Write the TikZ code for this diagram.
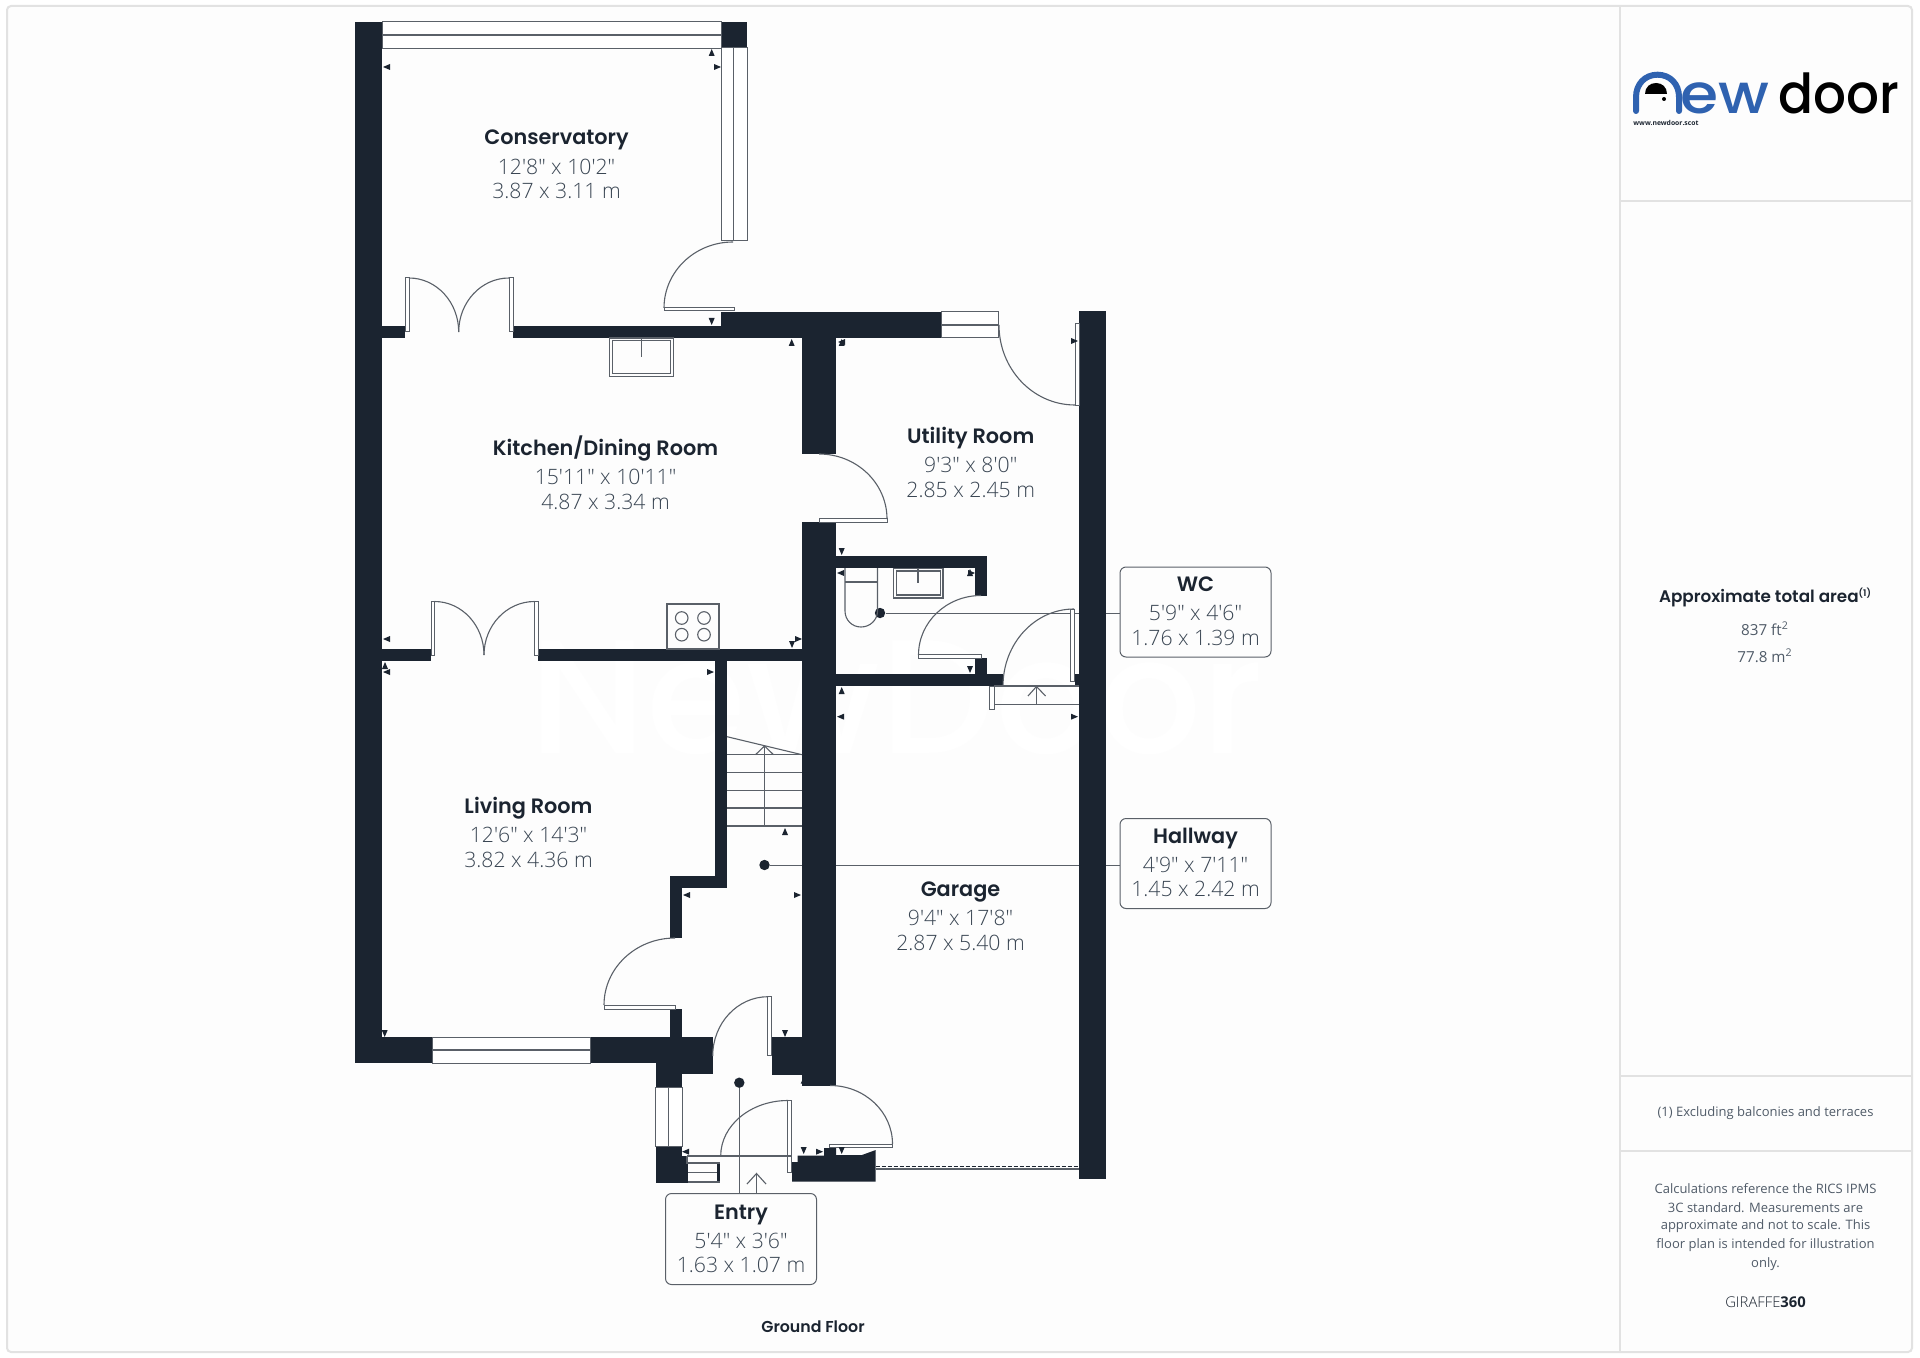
\documentclass[tikz,border=0pt]{standalone}
\usepackage{fontspec}
\usetikzlibrary{calc}
\setmainfont{Open Sans}
\newfontfamily\dimfont[UprightFont=* Light,BoldFont=* Bold]{Open Sans}
\newfontfamily\bodyfont{Open Sans}
\newfontfamily\titlefont[UprightFont=* SemiBold]{Poppins}
\newfontfamily\logofont[UprightFont=* Medium]{Poppins}
\definecolor{wallc}{HTML}{1B2430}
\definecolor{linec}{HTML}{5A6068}
\definecolor{dimc}{HTML}{3A4653}
\definecolor{sidec}{HTML}{505B68}
\definecolor{framec}{HTML}{E2E2E2}
\definecolor{bgc}{HTML}{FDFDFD}
\definecolor{logoblue}{HTML}{2F62B0}
\newcommand{\wallr}[4]{\fill[wallc] (#1,#2) rectangle (#3,#4);}
\newcommand{\qarc}[3]{\draw[plan] (#1) .. controls ($(#1)!.5523!(#2)$) and ($(#3)!.5523!(#2)$) .. (#3);}
\newcommand{\mkL}[2]{\fill[wallc] (#1,#2) -- ++(7,-3) -- ++(0,6) -- cycle;}
\newcommand{\mkR}[2]{\fill[wallc] (#1,#2) -- ++(-7,-3) -- ++(0,6) -- cycle;}
\newcommand{\mkU}[2]{\fill[wallc] (#1,#2) -- ++(-3,7) -- ++(6,0) -- cycle;}
\newcommand{\mkD}[2]{\fill[wallc] (#1,#2) -- ++(-3,-7) -- ++(6,0) -- cycle;}
\newcommand{\supsm}[1]{\raisebox{3.2pt}{\fontsize{4.6}{5}\selectfont #1}}
\tikzset{
  plan/.style={draw=linec,line width=0.55pt},
  glass/.style={draw=linec,line width=0.5pt,fill=white},
  dotn/.style={circle,fill=wallc,inner sep=0pt,minimum size=5.2pt},
  lead/.style={draw=linec,line width=0.5pt},
  labelbox/.style={draw=linec,line width=0.5pt,rounded corners=3pt,fill=bgc,inner sep=0pt},
  rname/.style={font=\titlefont\fontsize{10.4}{13}\selectfont,text=wallc,inner sep=0pt,anchor=base},
  rdim/.style={font=\dimfont\fontsize{10.6}{13}\selectfont,text=dimc,inner sep=0pt,anchor=center},
  side/.style={font=\bodyfont\fontsize{6.5}{9}\selectfont,text=sidec,inner sep=0pt,anchor=center},
  sidem/.style={font=\bodyfont\fontsize{7.6}{9}\selectfont,text=sidec,inner sep=0pt,anchor=center},
}
\begin{document}
\begin{tikzpicture}[x=0.5pt,y=-0.5pt]
\useasboundingbox (0,0) rectangle (1920,1358);
\fill[white] (0,0) rectangle (1920,1358);
\draw[framec,line width=1pt,fill=bgc,rounded corners=2pt] (7,6) rectangle (1912,1352);
\draw[framec,line width=1pt] (1620,6) -- (1620,1352);
\draw[framec,line width=1pt] (1620,201) -- (1912,201);
\draw[framec,line width=1pt] (1620,1075.5) -- (1912,1075.5);
\draw[framec,line width=1pt] (1620,1151) -- (1912,1151);

% watermark: white on the near-white sheet, hidden by the walls
\node[font=\logofont\fontsize{81}{81}\selectfont,text=white,inner sep=0pt] (water) at (897,698) {NewDoor};

% leader targets and labels
\node[labelbox,minimum width=75.5pt,minimum height=45pt] (wcbox) at (1195.5,612) {};
\node[labelbox,minimum width=75.5pt,minimum height=45pt] (hallbox) at (1195.5,863.5) {};
\node[labelbox,minimum width=75.5pt,minimum height=45.5pt] (entrybox) at (741,1239) {};
\node[dotn] (wcdot) at (880,613) {};
\node[dotn] (halldot) at (764.5,865) {};
\node[dotn] (entrydot) at (739.3,1082.7) {};
\draw[lead] (wcdot) -- (wcdot -| wcbox.west);
\draw[lead] (halldot) -- (halldot -| hallbox.west);
\draw[lead] (entrydot) -- (entrydot |- entrybox.north);

% walls
\wallr{355}{22}{382}{1063}
\wallr{721}{22}{747}{48}
\wallr{382}{326}{405}{338}
\wallr{513}{326}{721}{338}
\wallr{721}{312}{941}{338}
\wallr{802}{338}{836}{454}
\wallr{802}{522}{836}{1085.5}
\wallr{1079}{311}{1105.5}{1179}
\wallr{836}{556}{987}{568}
\wallr{975}{556}{987}{595.5}
\wallr{975}{658}{987}{686}
\wallr{836}{674}{1003}{686}
\wallr{1075}{674}{1079}{686}
\wallr{382}{649}{431}{661}
\wallr{538}{649}{802}{661}
\wallr{714.5}{661}{727}{887.7}
\wallr{669.7}{875.5}{727}{887.7}
\wallr{669.7}{875.5}{681.7}{938}
\wallr{669.7}{1009.3}{681.7}{1037}
\wallr{355}{1037}{432.3}{1063}
\wallr{590.7}{1037}{713}{1063}
\wallr{682}{1063}{713}{1074.3}
\wallr{655.5}{1063}{682}{1087}
\wallr{771.7}{1037}{836}{1074.5}
\wallr{655.5}{1146.7}{682}{1183}
\wallr{682}{1156}{688}{1183}
\wallr{717}{1163}{720.3}{1182}
\fill[wallc] (792,1181.7) -- (792,1162) -- (797.7,1162) -- (797.7,1155.7) -- (824,1155.7) -- (824,1148) -- (836,1148) -- (836,1155) -- (862,1155) -- (875.7,1150) -- (875.7,1181.7) -- cycle;

% windows
\draw[glass] (382,22) rectangle (721,48.5);
\draw[plan] (382,35) -- (721,35);
\draw[glass] (721,48) rectangle (747,241);
\draw[plan] (733.5,48) -- (733.5,241);
\draw[glass] (941,312) rectangle (998.7,338);
\draw[plan] (941,325) -- (998.7,325);
\draw[glass] (432.3,1037) rectangle (590.7,1063);
\draw[plan] (432.3,1050) -- (590.7,1050);
\draw[glass] (655.5,1087) rectangle (682,1146.7);
\draw[plan] (668.5,1087) -- (668.5,1146.7);

% door leaves
\draw[glass] (664,308) rectangle (734,311);
\draw[glass] (405,278) rectangle (409,332);
\draw[glass] (509,278) rectangle (513,332);
\draw[glass] (1075,324) rectangle (1079,405);
\draw[glass] (819,518.5) rectangle (887,522);
\draw[glass] (918.5,654) rectangle (981,658);
\draw[glass] (1070.5,609) rectangle (1074.5,681);
\draw[glass] (431,601.5) rectangle (434.5,655);
\draw[glass] (534.5,601.5) rectangle (538,655);
\draw[glass] (604,1005.3) rectangle (675.7,1009);
\draw[glass] (767.7,996.7) rectangle (771.7,1055.7);
\draw[glass] (787.5,1100.5) rectangle (791.5,1172);
\draw[glass] (829.5,1144) rectangle (892.5,1147.3);

% door swings
\qarc{733,242}{664,242}{664,308}
\qarc{409,278}{458.7,278}{458.7,332}
\qarc{509,278}{458.7,278}{458.7,332}
\qarc{999,325}{999,405}{1075,405}
\qarc{819,454}{887,454}{887,519}
\qarc{981,595.5}{918.5,595.5}{918.5,655}
\qarc{1074,609}{1003,609}{1003,686}
\qarc{434.5,601.5}{484,601.5}{484,655}
\qarc{534.5,601.5}{484,601.5}{484,655}
\qarc{675,938}{604,938}{604,1005}
\qarc{768,996.7}{712.7,996.7}{712.7,1056}
\qarc{788,1100.5}{720.7,1100.5}{720.7,1156}
\qarc{830,1085.5}{892.5,1085.5}{892.5,1144}

% kitchen sink
\draw[plan] (609.3,338) rectangle (673.3,376.7);
\draw[plan] (612.3,340.7) rectangle (670.7,373.7);
\draw[plan] (641.7,338) -- (641.7,357);
% hob
\draw[plan] (667,604) rectangle (719,649);
\foreach \cx/\cy in {681.7/618,704/618,681.7/634.7,704/634.7}{\draw[plan] (\cx,\cy) circle[radius=6.3];}

% WC
\draw[plan] (845,568) -- (845,611) .. controls (845,620) and (852,627) .. (861,627) .. controls (870,627) and (877.5,620) .. (877.5,611) -- (877.5,568);
\draw[plan] (845,582) -- (877.5,582);
\draw[plan] (893.5,568.5) rectangle (943,598);
\draw[plan] (896.5,571) rectangle (940.5,595);
\draw[plan] (918,568) -- (918,583);

% threshold near WC
\draw[glass] (989,686) rectangle (994,709);
\draw[plan] (994,686) -- (1079,686);
\draw[plan] (994,704.5) -- (1079,704.5);
\draw[plan] (1036.5,686) -- (1036.5,704.5);
\draw[plan] (1028,696) -- (1036.5,686.5) -- (1045.5,696);

% stairs
\draw[plan] (727,736.7) -- (802,754.7);
\foreach \sy in {754.7,772.3,790.3,808,826}{\draw[plan] (727,\sy) -- (802,\sy);}
\draw[plan] (764.5,826) -- (764.5,746);
\draw[plan] (755.5,754.7) -- (764.5,746) -- (773.5,754.7);

% entry
\draw[plan] (687,1156) -- (792,1156);
\draw[plan] (687,1156.3) -- (687,1163) -- (720.3,1163);
\draw[plan] (688,1172.7) -- (717,1172.7);
\draw[plan] (688,1182) -- (720.3,1182);
\draw[plan] (756.3,1173.5) -- (756.3,1193);
\draw[plan] (747,1184) -- (756.5,1173.5) -- (766,1184);
% garage door
\draw[wallc,line width=0.5pt,dash pattern=on 2pt off 1pt] (875.7,1166) -- (1079,1166);
\draw[plan] (875.7,1169) -- (1079,1169);

% markers
\mkL{383}{67} \mkU{711.7}{49} \mkR{721}{67} \mkD{711.7}{325}
\mkU{791.7}{339} \mkL{838}{342} \mkU{841.7}{339} \mkR{1078}{341} \mkD{841.7}{555}
\mkL{837}{573} \mkR{975}{573} \mkU{970}{569} \mkD{970}{673}
\mkU{841.7}{687} \mkL{837}{716.7} \mkR{1078}{716.7}
\mkL{383}{639} \mkR{802}{639} \mkD{792}{648}
\mkU{385}{662} \mkL{383}{672} \mkR{714}{672} \mkD{384.7}{1037}
\mkU{785}{828} \mkL{683}{895} \mkR{801}{895} \mkD{785}{1037}
\mkU{803.7}{1076.7} \mkL{682}{1151.7} \mkD{803.7}{1154} \mkR{823}{1151.7} \mkD{841.7}{1154}

% room labels
\node[rname] (n1) at (556.5,145) {Conservatory};
\node[rdim] (d1) at (556.5,166.5) {12'8" x 10'2"};
\node[rdim] (e1) at (556.5,191) {3.87 x 3.11 m};
\node[rname] (n2) at (605.5,455.5) {Kitchen/Dining Room};
\node[rdim] (d2) at (605.5,477) {15'11" x 10'11"};
\node[rdim] (e2) at (605.5,501.5) {4.87 x 3.34 m};
\node[rname] (n3) at (970.7,443) {Utility Room};
\node[rdim] (d3) at (970.7,464.5) {9'3" x 8'0"};
\node[rdim] (e3) at (970.7,489.5) {2.85 x 2.45 m};
\node[rname] (n4) at (528.5,813.5) {Living Room};
\node[rdim] (d4) at (528.5,835) {12'6" x 14'3"};
\node[rdim] (e4) at (528.5,859.5) {3.82 x 4.36 m};
\node[rname] (n5) at (960.5,896) {Garage};
\node[rdim] (d5) at (960.5,917.5) {9'4" x 17'8"};
\node[rdim] (e5) at (960.5,942.5) {2.87 x 5.40 m};
\node[rname] (n6) at (1195.5,591.5) {WC};
\node[rdim] (d6) at (1195.5,613) {5'9" x 4'6"};
\node[rdim] (e6) at (1195.5,638) {1.76 x 1.39 m};
\node[rname] (n7) at (1195.5,843.5) {Hallway};
\node[rdim] (d7) at (1195.5,865) {4'9" x 7'11"};
\node[rdim] (e7) at (1195.5,889) {1.45 x 2.42 m};
\node[rname] (n8) at (741,1219) {Entry};
\node[rdim] (d8) at (741,1240.5) {5'4" x 3'6"};
\node[rdim] (e8) at (741,1265) {1.63 x 1.07 m};
\node[font=\titlefont\fontsize{7.9}{10}\selectfont,text=wallc,inner sep=0pt] (gf) at (813,1326.5) {Ground Floor};

% side panel
\node[font=\titlefont\fontsize{8.4}{10}\selectfont,text=wallc,inner sep=0pt] (area) at (1765,597.5) {Approximate total area\supsm{(1)}};
\node[sidem] (ft) at (1765,628.5) {837 ft\textsuperscript{2}};
\node[sidem] (m2) at (1765,655.5) {77.8 m\textsuperscript{2}};
\node[side] (excl) at (1765.5,1113) {(1) Excluding balconies and terraces};
\node[side] (c1) at (1765.5,1188.5) {Calculations reference the RICS IPMS};
\node[side] (c2) at (1765.5,1207.5) {3C standard. Measurements are};
\node[side] (c3) at (1765.5,1226.5) {approximate and not to scale. This};
\node[side] (c4) at (1765.5,1245.5) {floor plan is intended for illustration};
\node[side] (c5) at (1765.5,1264.5) {only.};
\node[font=\dimfont\fontsize{7.4}{9}\selectfont,text=wallc,inner sep=0pt] (gir) at (1765.5,1302) {GIRAFFE\textbf{360}};

% logo
\draw[logoblue,line width=3pt,line cap=round] (1636,111) -- (1636,97) .. controls (1636,84) and (1645,74.7) .. (1657.5,74.7) .. controls (1670,74.7) and (1679,84) .. (1679,97) -- (1679,111);
\fill[black] (1645,94) .. controls (1645,87) and (1650,83) .. (1656,83) .. controls (1662,83) and (1667,87) .. (1667,94) -- cycle;
\fill[black] (1664,99) circle[radius=2];
\node[font=\logofont\fontsize{27.5}{28}\selectfont,text=logoblue,inner sep=0pt,anchor=base west] (logoa) at (1680,114) {\scalebox{1.12}[1]{ew}};
\node[font=\logofont\fontsize{27.5}{28}\selectfont,text=black,inner sep=0pt,anchor=base west] (logob) at (1778,114) {\scalebox{.94}[1]{door}};
\node[font=\bodyfont\bfseries\fontsize{3.4}{4}\selectfont,text=wallc,inner sep=0pt,anchor=west] (logoc) at (1633,123) {www.newdoor.scot};
\end{tikzpicture}
\end{document}
